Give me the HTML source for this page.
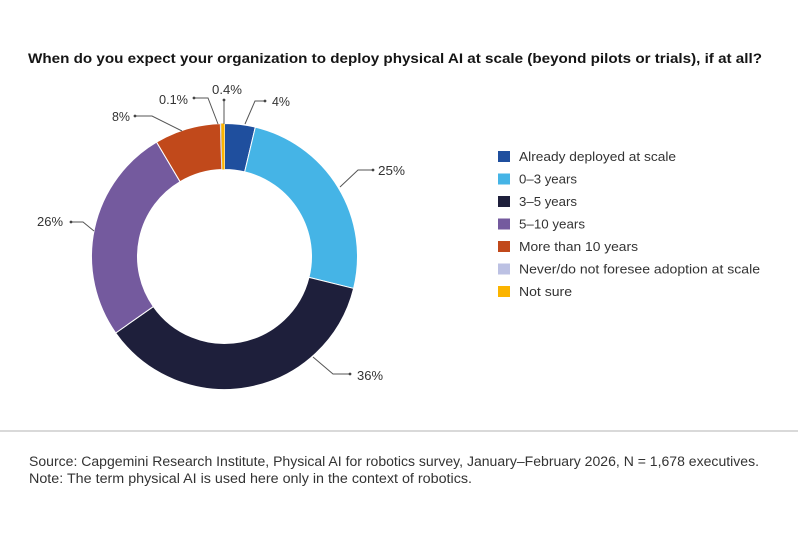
<!DOCTYPE html>
<html>
<head>
<meta charset="utf-8">
<style>
  html,body{margin:0;padding:0;background:#fff;}
  svg{display:block;}
  text{font-family:"Liberation Sans",sans-serif;}
</style>
</head>
<body>
<svg width="800" height="533" viewBox="0 0 800 533" xmlns="http://www.w3.org/2000/svg">
  <rect width="800" height="533" fill="#fff"/>
  <!-- Title -->
  <text x="28" y="63" font-size="14" font-weight="bold" fill="#151515" textLength="734" lengthAdjust="spacingAndGlyphs">When do you expect your organization to deploy physical AI at scale (beyond pilots or trials), if at all?</text>

  <!-- Donut -->
  <g stroke="#fff" stroke-width="1" stroke-linejoin="round">
    <path d="M224.5,123.5 A133,133 0 0 1 255.32,127.12 L244.66,171.87 A87,87 0 0 0 224.5,169.5 Z" fill="#1f4f9e"/>
    <path d="M255.32,127.12 A133,133 0 0 1 353.60,288.45 L308.95,277.40 A87,87 0 0 0 244.66,171.87 Z" fill="#45b4e6"/>
    <path d="M353.60,288.45 A133,133 0 0 1 115.69,332.98 L153.33,306.53 A87,87 0 0 0 308.95,277.40 Z" fill="#1e1f3b"/>
    <path d="M115.69,332.98 A133,133 0 0 1 156.60,142.13 L180.09,181.69 A87,87 0 0 0 153.33,306.53 Z" fill="#745a9e"/>
    <path d="M156.60,142.13 A133,133 0 0 1 220.32,123.57 L221.77,169.54 A87,87 0 0 0 180.09,181.69 Z" fill="#c1491b"/>
  </g>
  <path d="M220.32,123.57 A133,133 0 0 1 221.16,123.54 L222.31,169.53 A87,87 0 0 0 221.77,169.54 Z" fill="#bcc1e3"/>
  <path d="M221.16,123.54 A133,133 0 0 1 224.5,123.5 L224.5,169.5 A87,87 0 0 0 222.31,169.53 Z" fill="#fbb400"/>

  <!-- Callout lines -->
  <g stroke="#555" stroke-width="1" fill="none">
    <polyline points="245,124 255,101 265,101"/>
    <polyline points="224,124 224,100"/>
    <polyline points="218,124 208,98 194,98"/>
    <polyline points="182,131 152,116 135,116"/>
    <polyline points="340,187 358,170 373,170"/>
    <polyline points="94,231 83,222 71,222"/>
    <polyline points="313,357 333,374 350,374"/>
  </g>
  <g fill="#444">
    <circle cx="265" cy="101" r="1.4"/>
    <circle cx="224" cy="100" r="1.4"/>
    <circle cx="194" cy="98" r="1.4"/>
    <circle cx="135" cy="116" r="1.4"/>
    <circle cx="373" cy="170" r="1.4"/>
    <circle cx="71" cy="222" r="1.4"/>
    <circle cx="350" cy="374" r="1.4"/>
  </g>
  <g font-size="12.5" fill="#333">
    <text x="272" y="106" textLength="18" lengthAdjust="spacingAndGlyphs">4%</text>
    <text x="212" y="94" textLength="30" lengthAdjust="spacingAndGlyphs">0.4%</text>
    <text x="159" y="104" textLength="29" lengthAdjust="spacingAndGlyphs">0.1%</text>
    <text x="112" y="121" textLength="18" lengthAdjust="spacingAndGlyphs">8%</text>
    <text x="378" y="175" textLength="27" lengthAdjust="spacingAndGlyphs">25%</text>
    <text x="37" y="226" textLength="26" lengthAdjust="spacingAndGlyphs">26%</text>
    <text x="357" y="380" textLength="26" lengthAdjust="spacingAndGlyphs">36%</text>
  </g>

  <!-- Legend -->
  <rect x="498" y="151" width="12" height="11" fill="#1f4f9e"/>
  <rect x="498" y="173.5" width="12" height="11" fill="#45b4e6"/>
  <rect x="498" y="196" width="12" height="11" fill="#1e1f3b"/>
  <rect x="498" y="218.5" width="12" height="11" fill="#745a9e"/>
  <rect x="498" y="241" width="12" height="11" fill="#c1491b"/>
  <rect x="498" y="263.5" width="12" height="11" fill="#bcc1e3"/>
  <rect x="498" y="286" width="12" height="11" fill="#fbb400"/>
  <g font-size="13" fill="#333">
    <text x="519" y="161" textLength="157" lengthAdjust="spacingAndGlyphs">Already deployed at scale</text>
    <text x="519" y="183.5" textLength="58" lengthAdjust="spacingAndGlyphs">0–3 years</text>
    <text x="519" y="206" textLength="58" lengthAdjust="spacingAndGlyphs">3–5 years</text>
    <text x="519" y="228.5" textLength="66" lengthAdjust="spacingAndGlyphs">5–10 years</text>
    <text x="519" y="251" textLength="119" lengthAdjust="spacingAndGlyphs">More than 10 years</text>
    <text x="519" y="273.5" textLength="241" lengthAdjust="spacingAndGlyphs">Never/do not foresee adoption at scale</text>
    <text x="519" y="296" textLength="53" lengthAdjust="spacingAndGlyphs">Not sure</text>
  </g>

  <!-- Separator -->
  <rect x="0" y="430" width="798" height="2" fill="#d9d9d9"/>

  <!-- Source -->
  <g font-size="13.5" fill="#333">
    <text x="29" y="466" textLength="730" lengthAdjust="spacingAndGlyphs">Source: Capgemini Research Institute, Physical AI for robotics survey, January–February 2026, N = 1,678 executives.</text>
    <text x="29" y="483" textLength="443" lengthAdjust="spacingAndGlyphs">Note: The term physical AI is used here only in the context of robotics.</text>
  </g>
</svg>
</body>
</html>
